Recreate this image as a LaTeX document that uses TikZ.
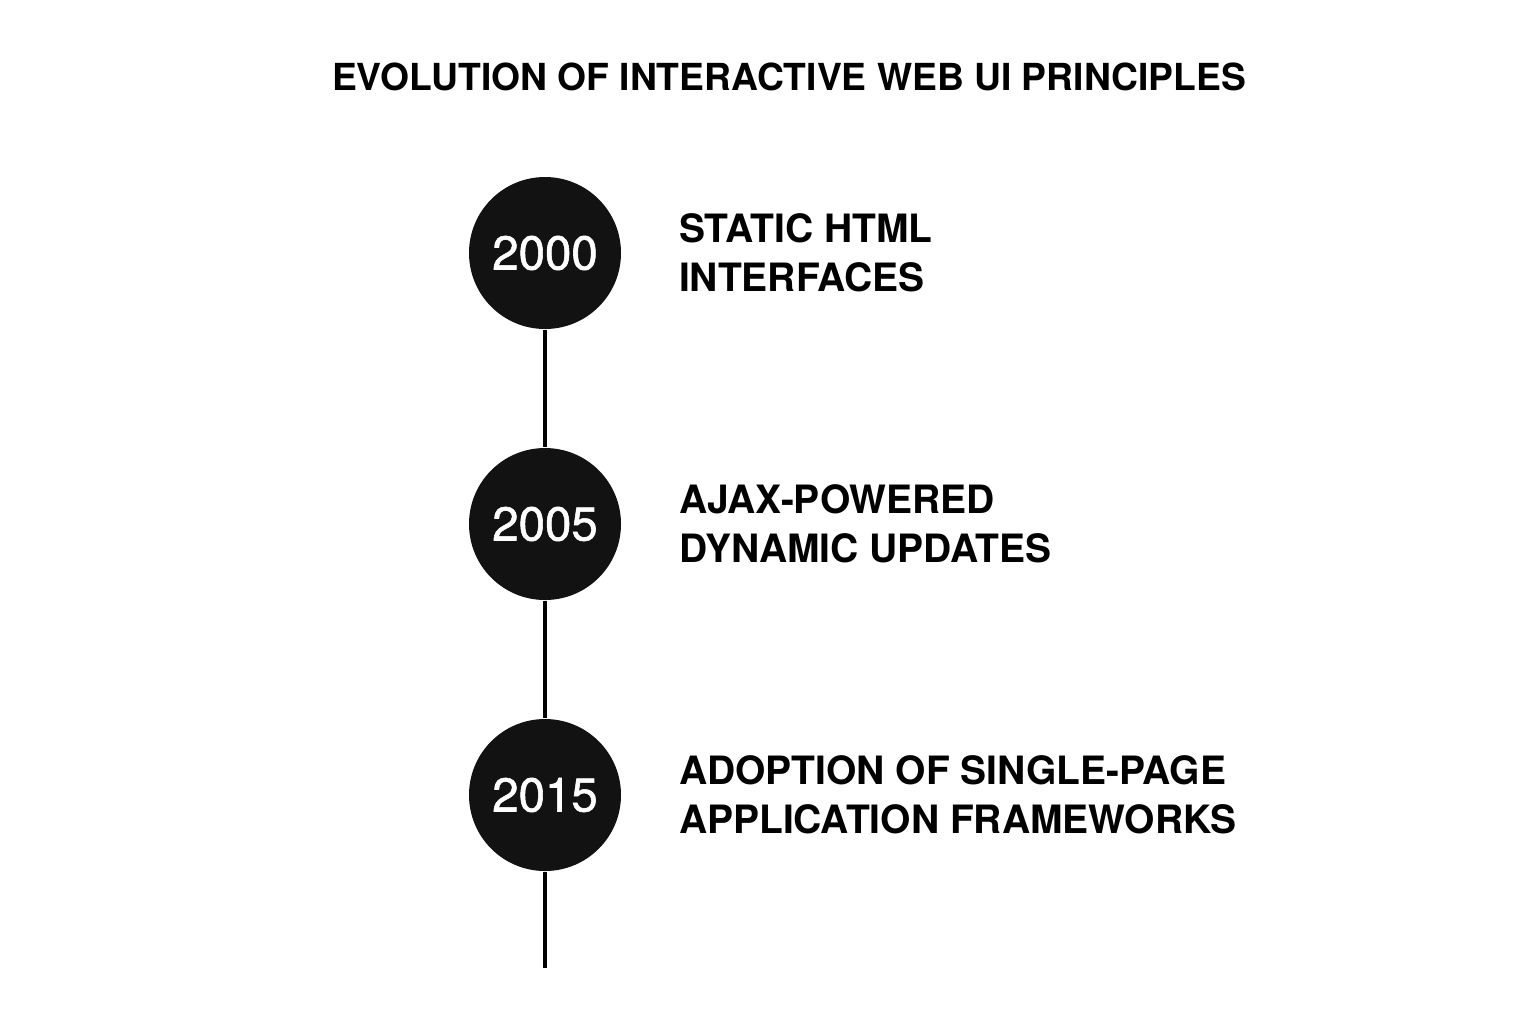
\documentclass[tikz,border=0pt]{standalone}
\usepackage{fontspec}
\setmainfont{TeX Gyre Heros}
\newfontfamily\yearfont{TeX Gyre Heros}[UprightFeatures={FakeBold=1.2}]
\usetikzlibrary{positioning}

\begin{document}
\begin{tikzpicture}[node distance=5.42cm, semithick]
  \tikzstyle{year}=[circle,fill=black!93,draw=none,minimum size=3.04cm,inner sep=0pt,
                    text=white,font=\yearfont\fontsize{27}{32}\selectfont]
  \tikzstyle{milestone}=[align=left,inner sep=0pt,
                         font=\bfseries\fontsize{22.2}{27.8}\selectfont]

  \path[fill=white] (0,0) rectangle (30.72,-20.48);

  \node[anchor=base,font=\bfseries\fontsize{21.2}{25}\selectfont] (title) at (15.78,-1.8)
       {EVOLUTION OF INTERACTIVE WEB UI PRINCIPLES};

  \node[year]          (y2000) at (10.9,-5.06) {2000};
  \node[year]          (y2005) [below of=y2000] {2005};
  \node[year]          (y2015) [below of=y2005] {2015};
  \coordinate          (end) at (10.9,-19.36);

  \node[milestone]     (t2000) [right=1.14cm of y2000] {STATIC HTML\\INTERFACES};
  \node[milestone]     (t2005) [right=1.14cm of y2005] {AJAX-POWERED\\DYNAMIC UPDATES};
  \node[milestone]     (t2015) [right=1.14cm of y2015] {ADOPTION OF SINGLE-PAGE\\APPLICATION FRAMEWORKS};

  \path[line width=2pt]
        (y2000) edge (y2005)
        (y2005) edge (y2015)
        (y2015) edge (end)
  ; %end path

\end{tikzpicture}
\end{document}
